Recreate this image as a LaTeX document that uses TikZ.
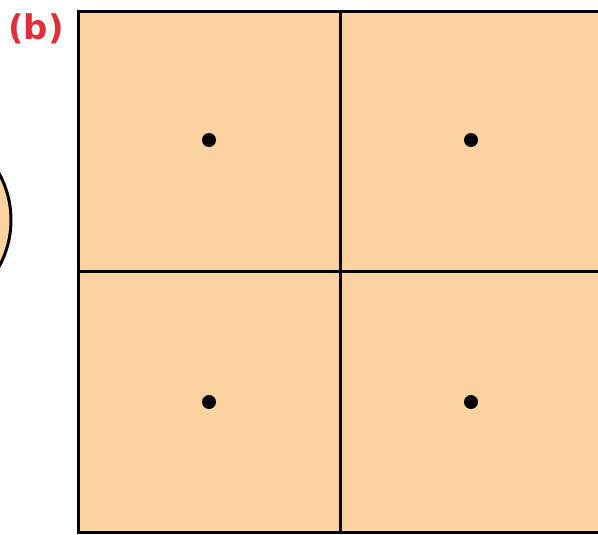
\documentclass[tikz,border=0pt]{standalone}
\usepackage{fontspec}
\usepackage{xcolor}
\usepackage{tikz}
\usetikzlibrary{positioning}
\setsansfont{DejaVu Sans}
\definecolor{peach}{RGB}{252,210,160}
\definecolor{panelred}{RGB}{224,45,55}

\begin{document}
\begin{tikzpicture}[x=1pt, y=-1pt,
  cell/.style={draw=black, line width=3pt, fill=peach},
  centre/.style={circle, fill=black, inner sep=0pt, minimum size=14pt},
  tag/.style={font=\sffamily\bfseries\fontsize{34}{40}\selectfont,
              text=panelred, inner sep=0pt, anchor=north west}
]
  \useasboundingbox (0,0) rectangle (598,535);
  \clip (0,0) rectangle (598,535);

  % neighbouring disc, cut by the frame
  \draw[cell] (-86,220) circle (97);

  % 2x2 lattice of cells
  \draw[cell] (78,12) rectangle (604,532);
  \draw[line width=3pt] (340,12) -- (340,532);
  \draw[line width=3pt] (78,271) -- (604,271);

  % cell centres
  \node[centre] (c11) at (209,140) {};
  \node[centre] (c12) at (471,140) {};
  \node[centre] (c21) at (209,402) {};
  \node[centre] (c22) at (471,402) {};

  % panel label
  \node[tag] (lbl) at (8,13) {(b)};
\end{tikzpicture}
\end{document}
